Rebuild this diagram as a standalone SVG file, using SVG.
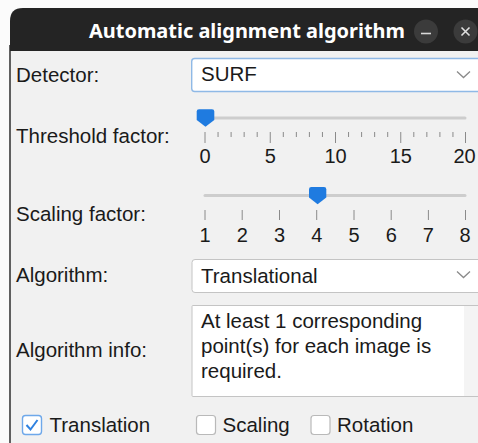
<svg xmlns="http://www.w3.org/2000/svg" width="478" height="443" viewBox="0 0 478 443">
  <style>
    .lbl { font-family: "Liberation Sans", Arial, sans-serif; font-size: 20.5px; fill: #1a1a1a; }
    .num { font-family: "Liberation Sans", Arial, sans-serif; font-size: 20px; fill: #1a1a1a; text-anchor: middle; }
    .title { font-family: "Noto Sans", "Open Sans", sans-serif; font-weight: bold; font-size: 20px; fill: #ffffff; }
    .field { fill: #ffffff; stroke: #c4c4c4; stroke-width: 1; }
    .groove { stroke: #cdcdcd; stroke-width: 3; stroke-linecap: round; }
    .tick { stroke: #8a8a8a; stroke-width: 1; }
    .handle { fill: #1f7be0; }
    .chev { fill: none; stroke: #8a8a8a; stroke-width: 1.3; }
    .box { fill: #ffffff; stroke: #b9b9b9; stroke-width: 1.2; }
  </style>

  <!-- outer backdrop -->
  <rect x="0" y="0" width="478" height="443" fill="#fbfbfb"/>

  <!-- window body -->
  <g id="window">
    <rect x="10" y="20" width="480" height="430" fill="#f1f1f1"/>
    <line x1="10" y1="45" x2="10" y2="443" stroke="#3a3a3a" stroke-width="1.6"/>
    <!-- title bar with rounded top-left corner -->
    <path d="M10,51 L10,21 Q10,8 23,8 L478,8 L478,51 Z" fill="#242424"/>
    <text class="title" x="89" y="37.7" textLength="316" lengthAdjust="spacingAndGlyphs">Automatic alignment algorithm</text>
    <g id="btn-minimize">
      <circle cx="426" cy="31.5" r="12" fill="#3b3b3b"/>
      <line x1="421" y1="33.5" x2="431" y2="33.5" stroke="#d8d8d8" stroke-width="1.6"/>
    </g>
    <g id="btn-close">
      <circle cx="465.5" cy="31.5" r="12" fill="#3b3b3b"/>
      <path d="M461.5,27.5 L469.5,35.5 M469.5,27.5 L461.5,35.5" stroke="#e0e0e0" stroke-width="1.6"/>
    </g>
  </g>

  <!-- Detector row -->
  <g id="detector">
    <text class="lbl" x="16" y="81.7">Detector:</text>
    <rect x="191.7" y="58.5" width="300" height="33" rx="3" fill="#ffffff" stroke="#8fb9e6" stroke-width="1.4"/>
    <text class="lbl" x="201" y="81">SURF</text>
    <path class="chev" d="M457,71.5 L463.5,77.5 L470,71.5"/>
  </g>

  <!-- Threshold factor slider -->
  <g id="threshold">
    <text class="lbl" x="16" y="143">Threshold factor:</text>
    <line class="groove" x1="205" y1="118" x2="465" y2="118"/>
    <g id="threshold-ticks">
      <line class="tick" x1="205" y1="132" x2="205" y2="143"/>
      <line class="tick" x1="218.05" y1="132" x2="218.05" y2="137"/>
      <line class="tick" x1="231.1" y1="132" x2="231.1" y2="137"/>
      <line class="tick" x1="244.15" y1="132" x2="244.15" y2="137"/>
      <line class="tick" x1="257.2" y1="132" x2="257.2" y2="137"/>
      <line class="tick" x1="270.25" y1="132" x2="270.25" y2="143"/>
      <line class="tick" x1="283.3" y1="132" x2="283.3" y2="137"/>
      <line class="tick" x1="296.35" y1="132" x2="296.35" y2="137"/>
      <line class="tick" x1="309.4" y1="132" x2="309.4" y2="137"/>
      <line class="tick" x1="322.45" y1="132" x2="322.45" y2="137"/>
      <line class="tick" x1="335.5" y1="132" x2="335.5" y2="143"/>
      <line class="tick" x1="348.55" y1="132" x2="348.55" y2="137"/>
      <line class="tick" x1="361.6" y1="132" x2="361.6" y2="137"/>
      <line class="tick" x1="374.65" y1="132" x2="374.65" y2="137"/>
      <line class="tick" x1="387.7" y1="132" x2="387.7" y2="137"/>
      <line class="tick" x1="400.75" y1="132" x2="400.75" y2="143"/>
      <line class="tick" x1="413.8" y1="132" x2="413.8" y2="137"/>
      <line class="tick" x1="426.85" y1="132" x2="426.85" y2="137"/>
      <line class="tick" x1="439.9" y1="132" x2="439.9" y2="137"/>
      <line class="tick" x1="452.95" y1="132" x2="452.95" y2="137"/>
      <line class="tick" x1="465.5" y1="132" x2="465.5" y2="143"/>
    </g>
    <path class="handle" d="M196.7,111.5 Q196.7,109.3 199,109.3 L212,109.3 Q214.3,109.3 214.3,111.5 L214.3,120 L205.5,126.8 L196.7,120 Z"/>
    <text class="num" x="205" y="163.3">0</text>
    <text class="num" x="270.3" y="163.3">5</text>
    <text class="num" x="335.5" y="163.3">10</text>
    <text class="num" x="400.8" y="163.3">15</text>
    <text class="num" x="464.5" y="163.3">20</text>
  </g>

  <!-- Scaling factor slider -->
  <g id="scaling">
    <text class="lbl" x="16" y="221">Scaling factor:</text>
    <line class="groove" x1="205" y1="195.5" x2="465" y2="195.5"/>
    <g id="scaling-ticks">
      <line class="tick" x1="205" y1="210" x2="205" y2="220"/>
      <line class="tick" x1="242.2" y1="210" x2="242.2" y2="220"/>
      <line class="tick" x1="279.5" y1="210" x2="279.5" y2="220"/>
      <line class="tick" x1="316.7" y1="210" x2="316.7" y2="220"/>
      <line class="tick" x1="354" y1="210" x2="354" y2="220"/>
      <line class="tick" x1="391.2" y1="210" x2="391.2" y2="220"/>
      <line class="tick" x1="428.4" y1="210" x2="428.4" y2="220"/>
      <line class="tick" x1="465.5" y1="210" x2="465.5" y2="220"/>
    </g>
    <path class="handle" d="M309,189.2 Q309,187 311.3,187 L324,187 Q326.3,187 326.3,189.2 L326.3,197.5 L317.6,204.3 L309,197.5 Z"/>
    <text class="num" x="205" y="241.5">1</text>
    <text class="num" x="242.2" y="241.5">2</text>
    <text class="num" x="279.5" y="241.5">3</text>
    <text class="num" x="316.7" y="241.5">4</text>
    <text class="num" x="354" y="241.5">5</text>
    <text class="num" x="391.2" y="241.5">6</text>
    <text class="num" x="428.4" y="241.5">7</text>
    <text class="num" x="465" y="241.5">8</text>
  </g>

  <!-- Algorithm row -->
  <g id="algorithm">
    <text class="lbl" x="16" y="282.3">Algorithm:</text>
    <rect class="field" x="192" y="259.5" width="300" height="33" rx="3"/>
    <text class="lbl" x="201" y="282.7">Translational</text>
    <path class="chev" d="M457,271.5 L463.5,277.5 L470,271.5"/>
  </g>

  <!-- Algorithm info text area -->
  <g id="algorithm-info">
    <text class="lbl" x="16" y="356.7">Algorithm info:</text>
    <rect class="field" x="192" y="305.5" width="300" height="91" rx="1"/>
    <rect x="464" y="306" width="14" height="90" fill="#f4f4f4"/>
    <text class="lbl" x="201" y="328.3">At least 1 corresponding</text>
    <text class="lbl" x="201" y="353.3">point(s) for each image is</text>
    <text class="lbl" x="201" y="378.3">required.</text>
  </g>

  <!-- Transformation checkboxes -->
  <g id="cb-translation">
    <rect x="22.5" y="415.5" width="19" height="19" rx="3" fill="#ffffff" stroke="#6ea8ea" stroke-width="1.4"/>
    <path d="M26.5,425 L30.5,429.5 L37.5,420" fill="none" stroke="#2f82e0" stroke-width="2"/>
    <text class="lbl" x="49.5" y="431.7">Translation</text>
  </g>
  <g id="cb-scaling">
    <rect class="box" x="196.5" y="415.5" width="19" height="19" rx="3"/>
    <text class="lbl" x="222.5" y="431.7">Scaling</text>
  </g>
  <g id="cb-rotation">
    <rect class="box" x="311" y="415.5" width="19" height="19" rx="3"/>
    <text class="lbl" x="337" y="431.7">Rotation</text>
  </g>
</svg>
